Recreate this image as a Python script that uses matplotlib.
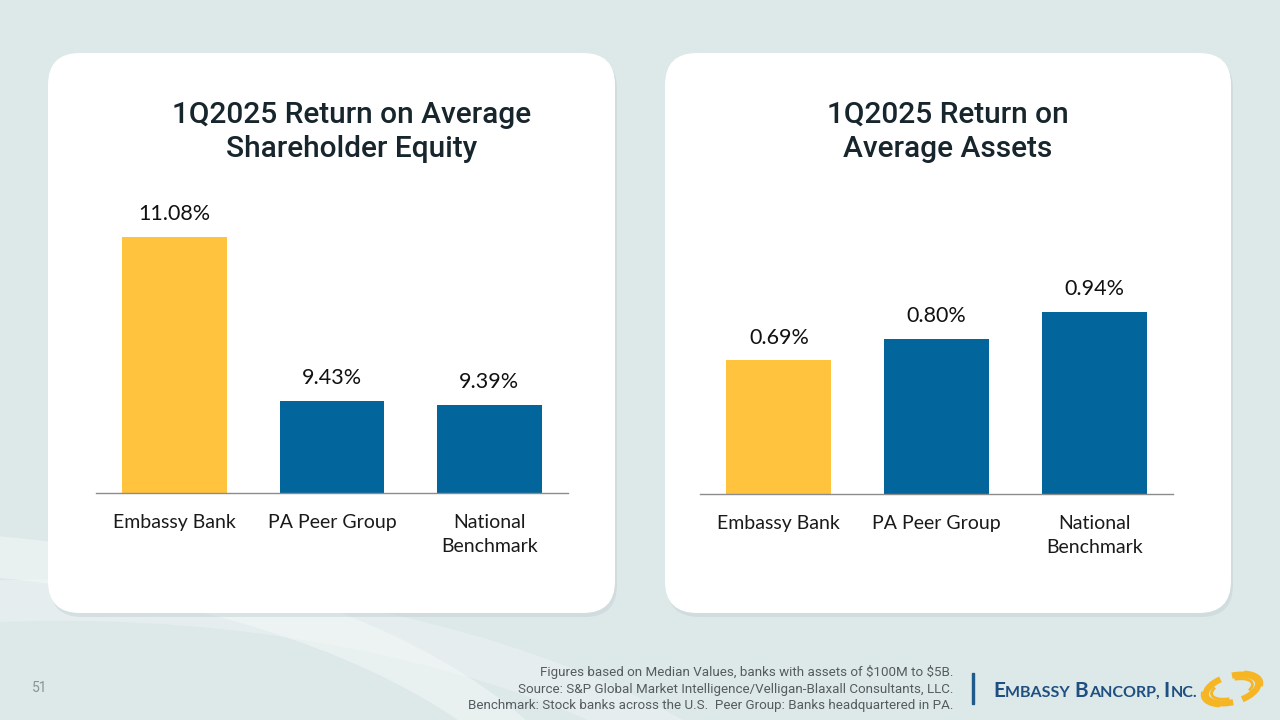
import matplotlib
matplotlib.use("Agg")
import matplotlib.pyplot as plt
from matplotlib.patches import FancyBboxPatch, Arc, Rectangle


# data
categories = ["Embassy Bank", "PA Peer Group", "National\nBenchmark"]
roe_values = [11.08, 9.43, 9.39]
roa_values = [0.69, 0.80, 0.94]
roe_title = "1Q2025 Return on Average\nShareholder Equity"
roa_title = "1Q2025 Return on\nAverage Assets"

footer_lines = [
    r"Figures based on Median Values, banks with assets of \$100M to \$5B.",
    "Source: S&P Global Market Intelligence/Velligan-Blaxall Consultants, LLC.",
    "Benchmark: Stock banks across the U.S.  Peer Group: Banks headquartered in PA.",
]
page_number = "51"

YELLOW = "#FFC33D"
BLUE = "#02659B"
BG = "#DDE8E9"
TITLE_COLOR = "#17252C"
LABEL_FONT = ["Lato", "DejaVu Sans"]
TITLE_FONT = ["Roboto", "DejaVu Sans"]

W, H = 1280, 720
fig = plt.figure(figsize=(12.8, 7.2), dpi=100)
fig.patch.set_facecolor(BG)

# background layer in pixel coordinates (y pointing down)
bg = fig.add_axes([0, 0, 1, 1])
bg.set_xlim(0, W)
bg.set_ylim(H, 0)
bg.axis("off")
bg.set_zorder(-1)

# faint decorative swooshes
for cx, cy, w, h, a in [(-150, 900, 1500, 700, 0.35), (60, 1050, 1700, 900, 0.25)]:
    bg.add_patch(Arc((cx, cy), w, h, theta1=180, theta2=360,
                     color="white", lw=30, alpha=a))


def panel(x0, y0, x1, y1):
    # soft shadow then white rounded card
    bg.add_patch(FancyBboxPatch((x0 + 2, y0 + 4), x1 - x0, y1 - y0,
                                boxstyle="round,pad=0,rounding_size=32",
                                fc="#b9c7c9", ec="none", alpha=0.35))
    bg.add_patch(FancyBboxPatch((x0, y0), x1 - x0, y1 - y0,
                                boxstyle="round,pad=0,rounding_size=32",
                                fc="white", ec="none"))


panel(48, 53, 615, 613)
panel(665, 53, 1231, 613)


def px_axes(x0, y0, x1, y1):
    return fig.add_axes([x0 / W, 1 - y1 / H, (x1 - x0) / W, (y1 - y0) / H])


def bar_chart(ax, values, base, top):
    xs = range(len(values))
    ax.bar(xs, [v - base for v in values], bottom=base, width=0.665,
           color=[YELLOW] + [BLUE] * (len(values) - 1))
    ax.set_ylim(base, top)
    ax.set_xlim(-0.5, len(values) - 0.5)
    ax.patch.set_alpha(0)
    for s in ["top", "right", "left"]:
        ax.spines[s].set_visible(False)
    ax.spines["bottom"].set_color("#8c8c8c")
    ax.spines["bottom"].set_linewidth(1.0)
    ax.set_yticks([])
    ax.set_xticks(list(xs))
    ax.set_xticklabels(categories, fontsize=14, family=LABEL_FONT,
                       color="#1a1a1a", linespacing=1.5)
    ax.tick_params(axis="x", length=0, pad=15)
    for x, v in zip(xs, values):
        ax.annotate(f"{v:.2f}%", (x, v), xytext=(0, 9),
                    textcoords="offset points", ha="center", va="bottom",
                    fontsize=15.5, family=LABEL_FONT, color="#111111")


# left: ROE (axis does not start at zero)
ax1 = px_axes(96, 180, 568, 493)
bar_chart(ax1, roe_values, 8.5, 11.65)

# right: ROA
ax2 = px_axes(700, 180, 1173, 494)
bar_chart(ax2, roa_values, 0, 1.62)

# titles
for cx, title in [(352, roe_title), (948, roa_title)]:
    bg.text(cx, 132, title, ha="center", va="center", fontsize=21.5,
            family=TITLE_FONT, weight="medium", color=TITLE_COLOR,
            linespacing=1.3)

# footer
for i, line in enumerate(footer_lines):
    bg.text(953, 672 + i * 17, line, ha="right", va="center", fontsize=9.6,
            family=["Roboto", "DejaVu Sans"], color="#555b5e")
bg.text(40, 688, page_number, ha="center", va="center", fontsize=10,
        family=["Roboto", "DejaVu Sans"], color="#8a9396")

# logo
bg.add_patch(Rectangle((972, 673), 2, 31, color="#1F5A8A"))
fig.canvas.draw()
renderer = fig.canvas.get_renderer()
x = 993
pieces = [("E", 15), ("MBASSY ", 11.5), ("B", 15), ("ANCORP, ", 11.5), ("I", 15), ("NC.", 11.5)]
for txt, fs in pieces:
    t = bg.text(x, 697, txt, ha="left", va="baseline", fontsize=fs,
                family=["Lato", "DejaVu Sans"], weight="bold", color="#1E4F80")
    bb = t.get_window_extent(renderer)
    x += bb.width + 0.5
for th1, th2, w, h, lw in [(100, 235, 54, 26, 4.5), (285, 420, 54, 26, 4.5),
                           (120, 200, 42, 18, 2), (300, 380, 42, 18, 2),
                           (140, 190, 62, 32, 1.5), (320, 370, 62, 32, 1.5)]:
    bg.add_patch(Arc((1232, 689), w, h, angle=-15, theta1=th1, theta2=th2,
                     color="#F6B623", lw=lw))

fig.savefig("out.png", dpi=100, facecolor=fig.get_facecolor())
